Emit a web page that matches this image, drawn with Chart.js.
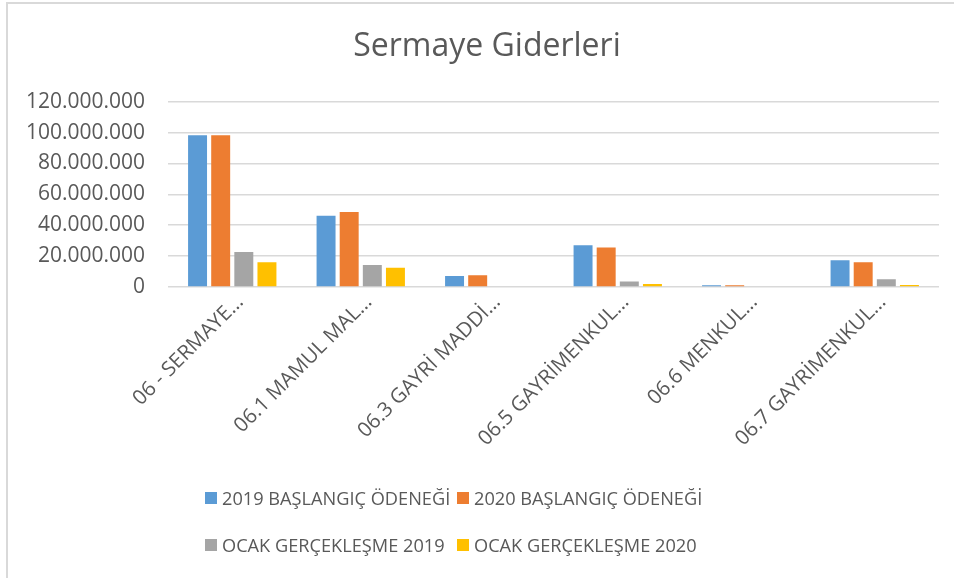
<!DOCTYPE html>
<html lang="tr">
<head>
  <meta charset="UTF-8" />
  <title>Sermaye Giderleri</title>
  <script src="https://cdn.jsdelivr.net/npm/chart.js"></script>
  <style>
    html, body {
      margin: 0;
      padding: 0;
      background: #ffffff;
      overflow: hidden;
    }
    .wrap {
      position: relative;
      width: 954px;
      height: 578px;
    }
    .frame {
      position: absolute;
      left: 6px;
      top: 2px;
      width: 1000px;
      height: 700px;
      border: 2px solid #d9d9d9;
      box-sizing: border-box;
    }
    canvas {
      position: absolute;
      left: 0;
      top: 0;
    }
    .legend {
      position: absolute;
      left: 205px;
      top: 484px;
      display: grid;
      grid-template-columns: 252px 252px;
      row-gap: 20px;
      font-family: 'Open Sans', sans-serif;
      font-size: 18.2px;
      color: #595959;
    }
    .legend span {
      display: flex;
      align-items: center;
      height: 27px;
      white-space: nowrap;
    }
    .legend i {
      display: inline-block;
      width: 12px;
      height: 12px;
      margin-right: 5px;
    }
  </style>
</head>
<body>
  <div class="wrap">
    <div class="frame"></div>
    <canvas id="chart" width="954" height="578"></canvas>
    <div class="legend" id="legend"></div>
  </div>

  <script>
    const categories = ['06 - SERMAYE...', '06.1 MAMUL MAL...', '06.3 GAYRİ MADDİ...', '06.5 GAYRİMENKUL...', '06.6 MENKUL...', '06.7 GAYRİMENKUL...'];
    const seriesNames = ['2019 BAŞLANGIÇ ÖDENEĞİ', '2020 BAŞLANGIÇ ÖDENEĞİ', 'OCAK GERÇEKLEŞME 2019', 'OCAK GERÇEKLEŞME 2020'];
    const baslangic2019 = [98300000, 46200000, 7100000, 27000000, 1100000, 17300000];
    const baslangic2020 = [98300000, 48600000, 7600000, 25500000, 1100000, 16000000];
    const ocak2019 = [22700000, 14300000, 0, 3500000, 0, 5000000];
    const ocak2020 = [16000000, 12500000, 0, 1900000, 0, 1300000];
    const colors = ['#5b9bd5', '#ed7d31', '#a5a5a5', '#ffc000'];
    const yMax = 120000000;
    const yStep = 20000000;

    const values = [baslangic2019, baslangic2020, ocak2019, ocak2020];

    // Turkish style thousands: 120.000.000
    function fmt(v) {
      return String(Math.round(v)).replace(/\B(?=(\d{3})+(?!\d))/g, '.');
    }

    const textColor = '#595959';
    const fontFamily = "'Open Sans', sans-serif";

    new Chart(document.getElementById('chart').getContext('2d'), {
      type: 'bar',
      data: {
        labels: categories,
        datasets: seriesNames.map((name, i) => ({
          label: name,
          data: values[i],
          backgroundColor: colors[i],
          borderWidth: 0,
          categoryPercentage: 0.72,
          barPercentage: 0.82
        }))
      },
      options: {
        responsive: false,
        animation: false,
        layout: { padding: { top: 0, right: 0, bottom: 0, left: 20 } },
        plugins: {
          legend: { display: false },
          tooltip: { enabled: false },
          title: {
            display: true,
            text: 'Sermaye Giderleri',
            color: textColor,
            font: { family: fontFamily, size: 32, weight: 'normal' },
            padding: { top: 28, bottom: 35.3 }
          }
        },
        scales: {
          x: {
            grid: { display: false, drawTicks: false },
            border: { display: false },
            ticks: {
              color: textColor,
              font: { family: fontFamily, size: 20.5 },
              minRotation: 45,
              maxRotation: 45,
              padding: 3,
              labelOffset: 8,
              autoSkip: false
            },
            afterFit: (scale) => { scale.height = 291; }
          },
          y: {
            min: 0,
            max: yMax,
            grid: { color: '#d9d9d9', lineWidth: 1.5, drawTicks: false },
            border: { display: false },
            ticks: {
              stepSize: yStep,
              color: textColor,
              font: { family: fontFamily, size: 21 },
              padding: 23,
              callback: (v) => fmt(v)
            },
            afterFit: (scale) => { scale.width = 148; }
          },
          // empty spacer on the right so the plot ends where Excel's does
          spacer: {
            position: 'right',
            grid: { display: false, drawTicks: false },
            border: { display: false },
            ticks: { display: false },
            afterFit: (scale) => { scale.width = 15; }
          }
        }
      }
    });

    const legend = document.getElementById('legend');
    seriesNames.forEach((name, i) => {
      const item = document.createElement('span');
      const box = document.createElement('i');
      box.style.background = colors[i];
      item.appendChild(box);
      item.appendChild(document.createTextNode(name));
      legend.appendChild(item);
    });
  </script>
</body>
</html>
